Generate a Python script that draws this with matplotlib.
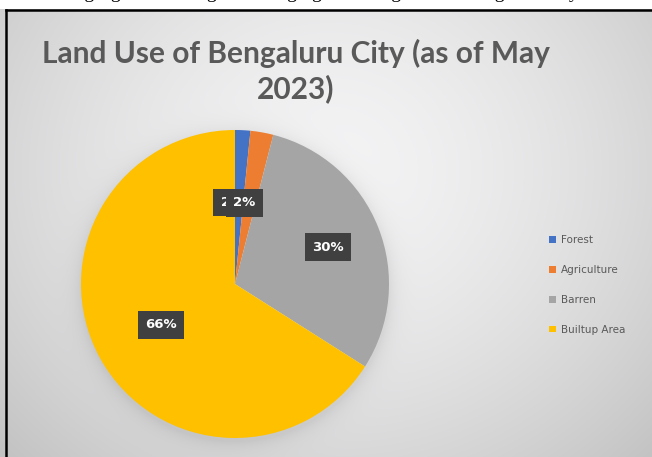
import numpy as np
import matplotlib
matplotlib.use("Agg")
import matplotlib.pyplot as plt
from matplotlib.patches import Patch

# data
categories = ["Forest", "Agriculture", "Barren", "Builtup Area"]
values = [1.6, 2.4, 30.0, 66.0]
colors = ["#4472C4", "#ED7D31", "#A5A5A5", "#FFC000"]
title = "Land Use of Bengaluru City (as of May\n2023)"

W, H = 652, 457
fig = plt.figure(figsize=(W / 100, H / 100), dpi=100)

# pie placement in pixels (centre x, centre y from top, radius)
pcx, pcy, pr = 235, 284, 154

# background: light grey radial gradient + soft shadow around the pie
yy, xx = np.mgrid[0:H, 0:W]
d = np.sqrt(((xx - 330) / 420.0) ** 2 + ((yy - 170) / 380.0) ** 2)
bg = 0.955 - 0.17 * d ** 1.6
dp = np.sqrt((xx - pcx) ** 2 + (yy - pcy - 3) ** 2) - pr
bg -= 0.07 * np.exp(-np.clip(dp, 0, None) / 9.0) * (dp > -4)
bg = np.clip(bg, 0, 1)
img = np.dstack([bg, bg, bg * 1.005])
img = np.clip(img, 0, 1)
img[:9, :, :] = 1.0

bgax = fig.add_axes([0, 0, 1, 1])
bgax.imshow(img, extent=(0, W, H, 0), aspect="auto", interpolation="bilinear")
bgax.set_xlim(0, W)
bgax.set_ylim(H, 0)
bgax.axis("off")
# chart frame (top and left edges visible)
bgax.plot([5.5, W], [10, 10], color="black", lw=1.8)
bgax.plot([6, 6], [10, H], color="black", lw=1.8)
# cut-off caption line above the chart
bgax.text(14, -2, "Following figure showing the changing land usage in the Bengaluru city",
          family="Liberation Serif", fontsize=14, color="black", va="baseline")

# title
bgax.text(296, 71, title, ha="center", va="center", fontsize=21.5, fontweight="bold",
          color="#595959", family="Lato", linespacing=1.22)

# pie
ax = fig.add_axes([(pcx - pr) / W, (H - pcy - pr) / H, 2 * pr / W, 2 * pr / H])
wedges, _ = ax.pie(values, colors=colors, startangle=90, counterclock=False,
                   radius=1.0, wedgeprops=dict(linewidth=0))
ax.set_xlim(-1, 1)
ax.set_ylim(-1, 1)
ax.set_aspect("auto")
ax.axis("off")

# data labels (dark boxes), positions from wedge mid-angles
dist = [0.53, 0.53, 0.65, 0.55]
shift = [-5.2, -3.5, 0.0, 0.0]  # degrees, to mimic overlap of the small labels
total = sum(values)
cum = 0.0
for v, dd, sh in zip(values, dist, shift):
    mid = (cum + v / 2) / total * 360.0 + sh
    cum += v
    th = np.deg2rad(90 - mid)
    ax.text(dd * np.cos(th), dd * np.sin(th), "%d%%" % round(v),
            ha="center", va="center", fontsize=9.5, fontweight="bold", color="white",
            family="DejaVu Sans",
            bbox=dict(boxstyle="square,pad=0.55", fc="#404040", ec="none"))

# legend
handles = [Patch(facecolor=c, edgecolor="none") for c in colors]
leg = fig.legend(handles, categories, loc="upper left",
                 bbox_to_anchor=(540 / W, 1 - 226 / H), frameon=False,
                 fontsize=7.5, labelcolor="#595959", handlelength=0.6,
                 handleheight=0.6, handletextpad=0.5, labelspacing=1.9)

fig.savefig("out.png", dpi=100)
